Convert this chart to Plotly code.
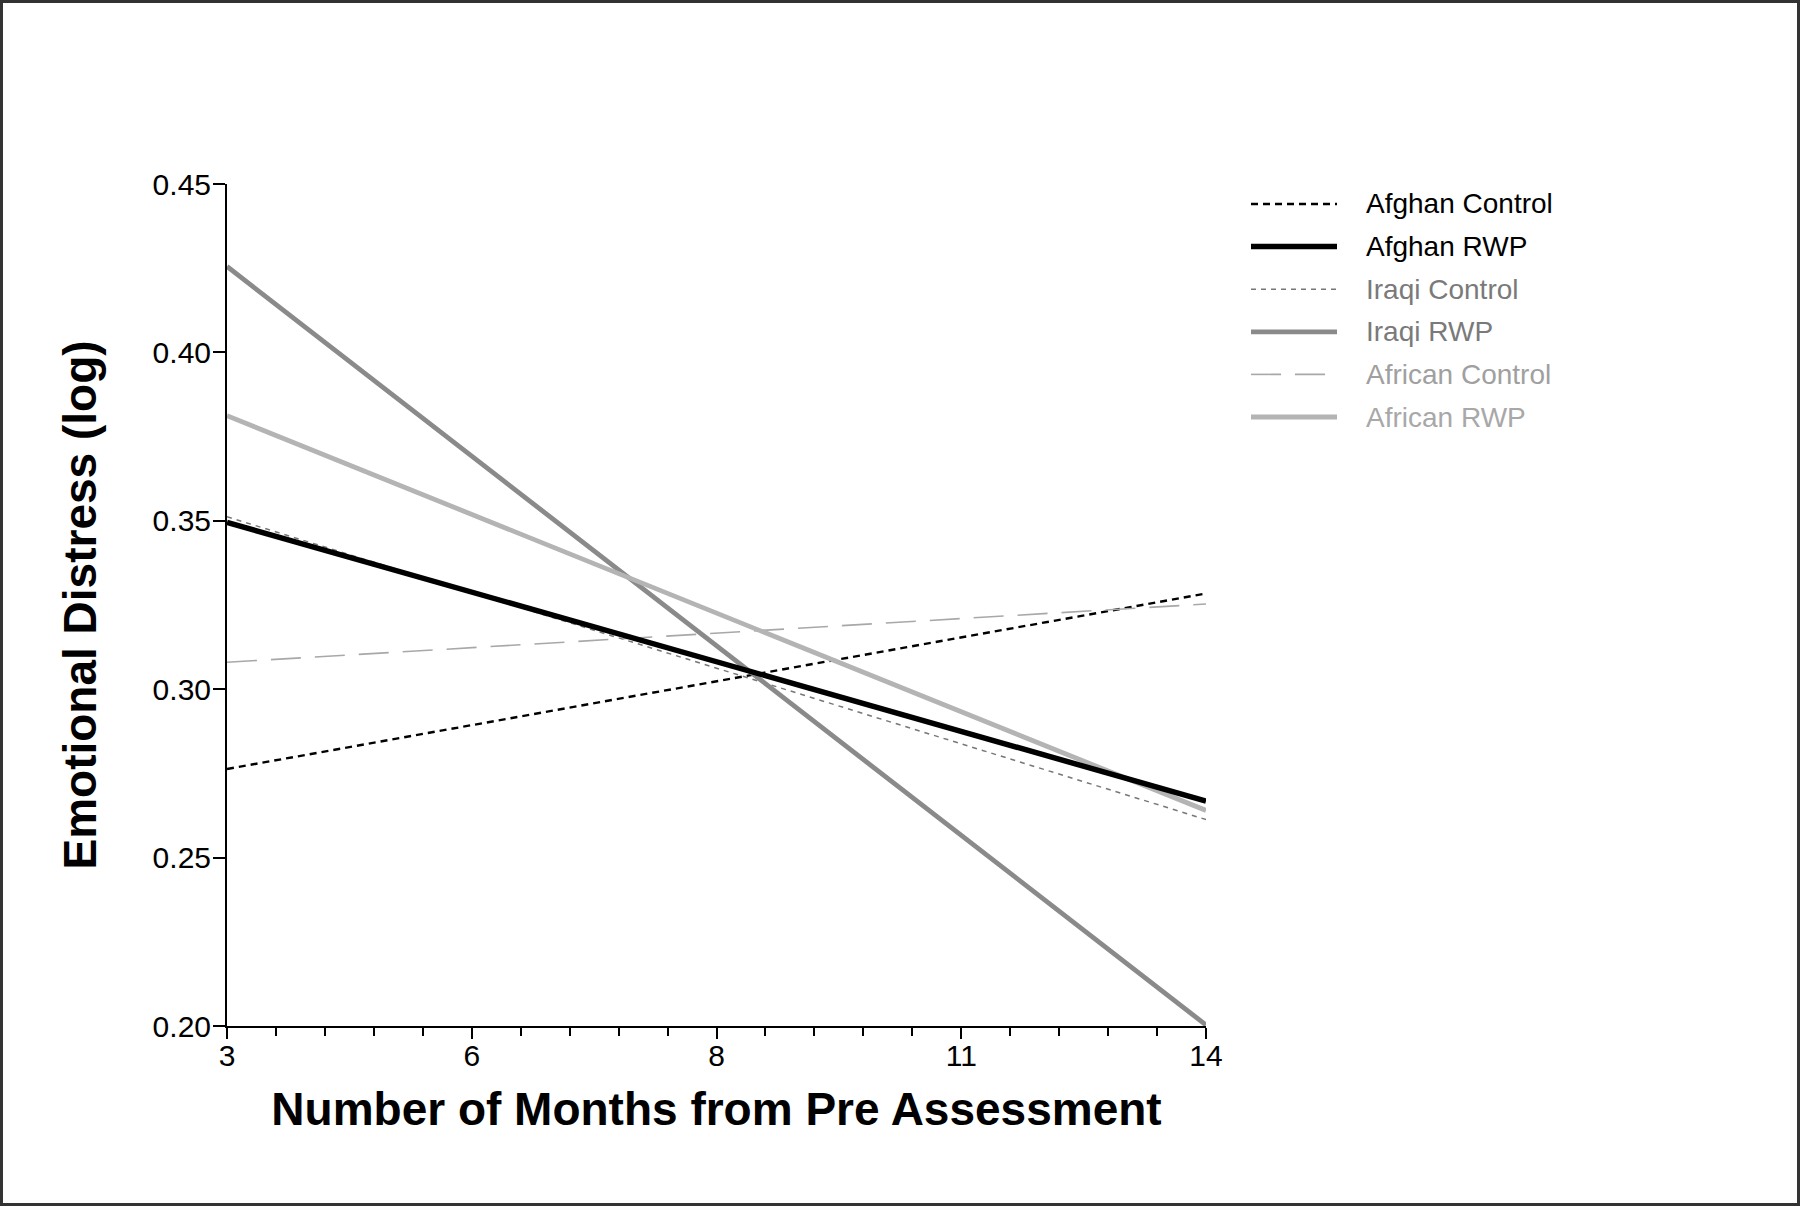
import plotly.graph_objects as go

# ---- data ----
x_positions = [2.75, 13.75]              # axis positions of the first/last assessment
x_tickvals = [2.75, 5.5, 8.25, 11.0, 13.75]
x_ticktext = ["3", "6", "8", "11", "14"]
y_tickvals = [0.20, 0.25, 0.30, 0.35, 0.40, 0.45]
y_ticktext = ["0.20", "0.25", "0.30", "0.35", "0.40", "0.45"]

series_names = ["Afghan Control", "Afghan RWP", "Iraqi Control",
                "Iraqi RWP", "African Control", "African RWP"]
afghan_control = [0.2763, 0.3284]
afghan_rwp = [0.3495, 0.2668]
iraqi_control = [0.3512, 0.2613]
iraqi_rwp = [0.4255, 0.2003]
african_control = [0.3080, 0.3253]
african_rwp = [0.3812, 0.2640]
series_values = [afghan_control, afghan_rwp, iraqi_control,
                 iraqi_rwp, african_control, african_rwp]

# ---- styles ----
line_colors = ["#000000", "#000000", "#777777", "#8a8a8a", "#a8a8a8", "#b4b4b4"]
text_colors = ["#000000", "#000000", "#7a7a7a", "#7a7a7a", "#a0a0a0", "#a8a8a8"]
line_widths = [2.4, 5.5, 1.5, 4.8, 1.6, 4.8]
line_dashes = ["7px,5px", "solid", "5px,5px", "solid", "30px,14px", "solid"]
draw_order = [0, 2, 4, 3, 5, 1]

W, H = 1800, 1206
L, R, T, B = 227, 1206, 184, 1026   # plot area in pixels
pw, ph = R - L, B - T


def px(xp):
    return (xp - L) / pw


def py(yp):
    return (B - yp) / ph


FONT = "Liberation Sans, Arial, sans-serif"

fig = go.Figure()
for i in draw_order:
    fig.add_trace(go.Scatter(
        x=x_positions, y=series_values[i], mode="lines", name=series_names[i],
        line=dict(color=line_colors[i], width=line_widths[i], dash=line_dashes[i]),
        showlegend=False, cliponaxis=False,
    ))

# custom legend (long line samples, coloured labels)
legend_top, legend_step = 204, 42.6
shapes = []
annotations = []
for i, name in enumerate(series_names):
    yy = legend_top + i * legend_step
    shapes.append(dict(type="line", xref="paper", yref="paper",
                       x0=px(1251), x1=px(1337), y0=py(yy), y1=py(yy),
                       line=dict(color=line_colors[i], width=line_widths[i],
                                 dash=line_dashes[i])))
    annotations.append(dict(xref="paper", yref="paper", x=px(1364), y=py(yy),
                            xanchor="left", yanchor="middle", showarrow=False,
                            text=name, font=dict(family=FONT, size=28,
                                                 color=text_colors[i])))

# outer frame
shapes.append(dict(type="rect", xref="paper", yref="paper",
                   x0=px(1.5), x1=px(W - 1.5), y0=py(H - 1.5), y1=py(1.5),
                   line=dict(color="#333333", width=3), layer="above"))

fig.update_layout(
    width=W, height=H,
    margin=dict(l=L, r=W - R, t=T, b=H - B, pad=0),
    paper_bgcolor="white", plot_bgcolor="white",
    showlegend=False,
    shapes=shapes, annotations=annotations,
    font=dict(family=FONT, color="black"),
)
fig.update_xaxes(
    range=[2.75, 13.75], showgrid=False, zeroline=False,
    showline=True, linecolor="black", linewidth=2,
    ticks="outside", ticklen=11, tickwidth=2, tickcolor="black",
    tickvals=x_tickvals, ticktext=x_ticktext, ticklabelstandoff=-9,
    tickfont=dict(family=FONT, size=30, color="black"),
    minor=dict(dtick=0.55, tick0=2.75, ticks="outside", ticklen=8,
               tickwidth=2, tickcolor="black", showgrid=False),
    title=dict(text="<b>Number of Months from Pre Assessment</b>",
               font=dict(family=FONT, size=46, color="black"), standoff=22),
)
fig.update_yaxes(
    range=[0.20, 0.45], showgrid=False, zeroline=False,
    showline=True, linecolor="black", linewidth=2,
    ticks="outside", ticklen=12, tickwidth=2, tickcolor="black",
    tickvals=y_tickvals, ticktext=y_ticktext, ticklabelstandoff=-4,
    tickfont=dict(family=FONT, size=30, color="black"),
    title=dict(text="<b>Emotional Distress (log)</b>",
               font=dict(family=FONT, size=46, color="black"), standoff=42),
)

fig.write_html("out.html", config={"displayModeBar": False},
               post_script="document.body.style.margin='0';")
